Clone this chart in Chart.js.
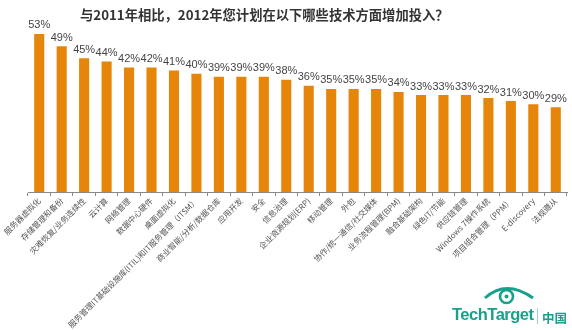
<!DOCTYPE html>
<html>
<head>
<meta charset="utf-8">
<script src="https://cdn.jsdelivr.net/npm/chart.js@4"></script>
<style>
  html, body { margin: 0; padding: 0; background: #fff; }
  #wrap { position: relative; width: 572px; height: 330px; }
  #title { position: absolute; left: 80px; top: 5px; width: 362px; text-align: center;
    font: bold 13.3px "Noto Sans CJK SC", "Liberation Sans", sans-serif; color: #333; white-space: nowrap; }
  #logo { position: absolute; left: 452px; top: 283px; width: 120px; height: 45px; }
  #logo .tt { position: absolute; left: 0; top: 22px; font: bold 16.5px "Liberation Sans", Arial, sans-serif; color: #18a08b; letter-spacing: -0.5px; }
  #logo .bar { position: absolute; left: 85px; top: 25px; width: 1px; height: 16px; background: #9fcfc6; }
  #logo .cn { position: absolute; left: 90px; top: 25px; font: bold 12.5px "Noto Sans CJK SC", sans-serif; color: #18a08b; }
  #logo svg { position: absolute; left: 30px; top: 0; }
</style>
</head>
<body>
<div id="wrap">
  <canvas id="c"></canvas>
  <div id="title">与2011年相比，2012年您计划在以下哪些技术方面增加投入？</div>
  <div id="logo">
    <svg width="56" height="22" viewBox="0 0 56 22">
      <path d="M3 15 Q24 -4 51 15" fill="none" stroke="#18a08b" stroke-width="3"/>
      <circle cx="24.5" cy="13.5" r="6.5" fill="none" stroke="#18a08b" stroke-width="2.6"/>
      <circle cx="24.5" cy="13.5" r="2" fill="#18a08b"/>
    </svg>
    <div class="tt">TechTarget</div>
    <div class="bar"></div>
    <div class="cn">中国</div>
  </div>
</div>
<script>
const categories = [
  "服务器虚拟化", "存储管理和备份", "灾难恢复/业务连续性", "云计算", "网络管理", "数据中心硬件",
  "桌面虚拟化", "服务管理IT基础设施库(ITIL)和IT服务管理（ITSM）", "商业智能/分析/数据仓库",
  "应用开发", "安全", "信息治理", "企业资源规划(ERP)", "移动管理", "外包",
  "协作/统一通信/社交媒体", "业务流程管理(BPM)", "融合基础架构", "绿色IT/节能", "供应链管理",
  "Windows 7操作系统", "项目组合管理（PPM）", "E-discovery", "法规遵从"
];
const values = [53, 49, 45, 44, 42, 42, 41, 40, 39, 39, 39, 38, 36, 35, 35, 35, 34, 33, 33, 33, 32, 31, 30, 29];

const valueLabels = {
  id: 'valueLabels',
  afterDatasetsDraw(chart) {
    const ctx = chart.ctx;
    const meta = chart.getDatasetMeta(0);
    ctx.save();
    ctx.font = '11px "Liberation Sans", Arial, sans-serif';
    ctx.fillStyle = '#444';
    ctx.textAlign = 'center';
    ctx.textBaseline = 'bottom';
    meta.data.forEach((bar, i) => {
      ctx.fillText(values[i] + '%', bar.x, bar.y - 3);
    });
    ctx.restore();
  }
};

new Chart(document.getElementById('c'), {
  type: 'bar',
  data: {
    labels: categories,
    datasets: [{
      data: values,
      backgroundColor: '#e5860b',
      borderWidth: 0,
      barPercentage: 0.45,
      categoryPercentage: 1.0
    }]
  },
  options: {
    responsive: true,
    maintainAspectRatio: false,
    animation: false,
    layout: { padding: { top: 12, left: 28, right: 5, bottom: 0 } },
    plugins: { legend: { display: false }, tooltip: { enabled: false }, title: { display: false } },
    scales: {
      x: {
        grid: { display: true, drawOnChartArea: false, drawTicks: true, tickLength: 4, offset: true, color: '#888' },
        border: { display: true, color: '#888' },
        ticks: {
          autoSkip: false, maxRotation: 45, minRotation: 45, padding: 0,
          color: '#555',
          font: { size: 8, family: '"Noto Sans CJK SC", sans-serif' }
        },
        afterFit(scale) { scale.height = 138; scale.paddingLeft = 0; scale.paddingRight = 0; }
      },
      y: { display: false, min: 1.2, max: 60.2 }
    }
  },
  plugins: [valueLabels]
});
</script>
</body>
</html>
